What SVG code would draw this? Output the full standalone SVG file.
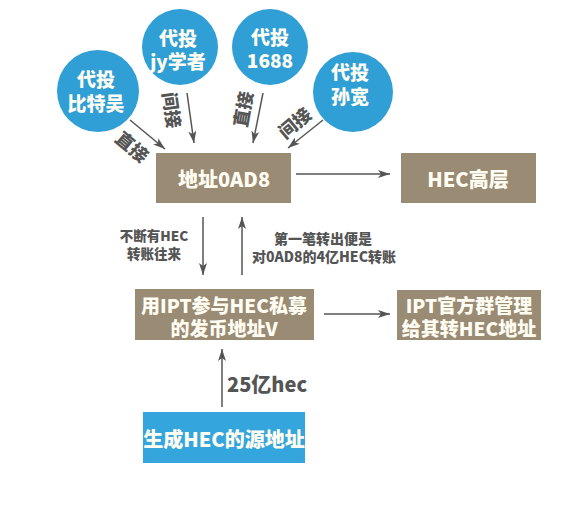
<svg xmlns="http://www.w3.org/2000/svg" width="576" height="518" viewBox="0 0 576 518">
<defs>
<marker id="ah" viewBox="0 0 12 8" refX="12" refY="4" markerWidth="12" markerHeight="8" markerUnits="userSpaceOnUse" orient="auto">
<path d="M0,0 L12,4 L0,8 L3,4 Z" fill="#555"/>
</marker>
<style>
.circ{fill:#2f9fd6}
.box{fill:#9a8b75}
.bbox{fill:#35a6dd}
.wt{font-family:"Noto Sans CJK SC","Noto Sans",sans-serif;font-weight:900;fill:#fffdf2;text-anchor:middle;dominant-baseline:central}
.gt{font-family:"Noto Sans CJK SC","Noto Sans",sans-serif;font-weight:900;fill:#555;text-anchor:middle;dominant-baseline:central}
.ln{stroke:#555;stroke-width:1.5;fill:none;marker-end:url(#ah)}
</style>
</defs>
<rect width="576" height="518" fill="#fff"/>
<g id="c1"><circle class="circ" cx="98" cy="91" r="41"/><text class="wt" font-size="19"><tspan x="96" y="78">代投</tspan><tspan x="96" y="102">比特吴</tspan></text></g>
<g id="c2"><circle class="circ" cx="180" cy="47" r="38"/><text class="wt" font-size="19"><tspan x="178" y="37">代投</tspan><tspan x="178" y="60">jy学者</tspan></text></g>
<g id="c3"><circle class="circ" cx="270" cy="47" r="38"/><text class="wt" font-size="19"><tspan x="270" y="36">代投</tspan><tspan x="270" y="59">1688</tspan></text></g>
<g id="c4"><circle class="circ" cx="353" cy="92" r="40"/><text class="wt" font-size="19"><tspan x="350" y="71">代投</tspan><tspan x="350" y="95">孙宽</tspan></text></g>
<g id="n0ad8"><rect class="box" x="156" y="153" width="135" height="50"/><text class="wt" x="224" y="178" font-size="20">地址0AD8</text></g>
<g id="nhec"><rect class="box" x="401" y="153" width="135" height="50"/><text class="wt" x="468" y="178" font-size="20">HEC高层</text></g>
<g id="nv"><rect class="box" x="135" y="289" width="179" height="51"/><text class="wt" font-size="19"><tspan x="224" y="304">用IPT参与HEC私募</tspan><tspan x="224" y="327">的发币地址V</tspan></text></g>
<g id="nipt"><rect class="box" x="397" y="290" width="144" height="50"/><text class="wt" font-size="19"><tspan x="469" y="304">IPT官方群管理</tspan><tspan x="469" y="327">给其转HEC地址</tspan></text></g>
<g id="nsrc"><rect class="bbox" x="143" y="412" width="162" height="51"/><text class="wt" x="224" y="438" font-size="20">生成HEC的源地址</text></g>
<g id="connectors">
<line class="ln" x1="130" y1="120" x2="165" y2="149"/>
<line class="ln" x1="187" y1="93" x2="194" y2="143"/>
<line class="ln" x1="263" y1="93" x2="253" y2="143"/>
<line class="ln" x1="323" y1="120" x2="288" y2="148"/>
<line class="ln" x1="296" y1="174" x2="390" y2="174"/>
<line class="ln" x1="203" y1="217" x2="203" y2="275"/>
<line class="ln" x1="242" y1="275" x2="242" y2="217"/>
<line class="ln" x1="324" y1="314" x2="390" y2="314"/>
<line class="ln" x1="222" y1="407" x2="222" y2="349"/>
<text class="gt" font-size="18" transform="translate(133,146) rotate(40)">直接</text>
<text class="gt" font-size="18" transform="translate(173,110) rotate(82)">间接</text>
<text class="gt" font-size="18" transform="translate(242,109) rotate(-80)">直接</text>
<text class="gt" font-size="18" transform="translate(294,122) rotate(-40)">间接</text>
<text class="gt" font-size="13.5"><tspan x="154" y="235">不断有HEC</tspan><tspan x="154" y="253">转账往来</tspan></text>
<text class="gt" font-size="14"><tspan x="323" y="238">第一笔转出便是</tspan><tspan x="324" y="256">对0AD8的4亿HEC转账</tspan></text>
<text class="gt" x="227" y="383" font-size="20" style="text-anchor:start">25亿hec</text>
</g>
</svg>
